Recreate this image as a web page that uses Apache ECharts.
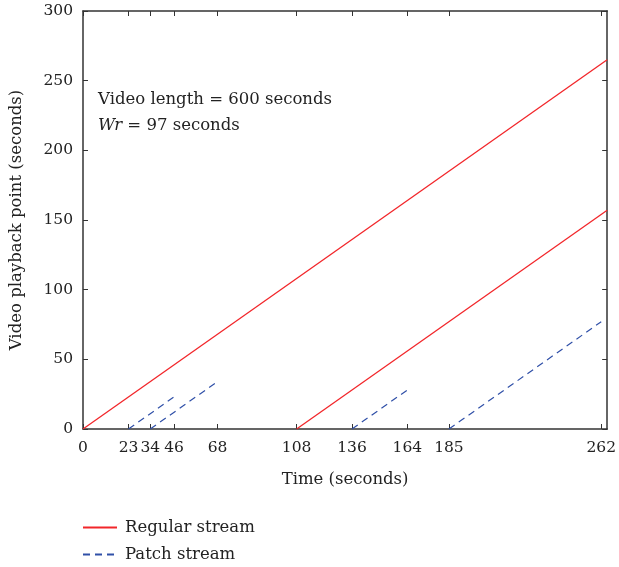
<!DOCTYPE html>
<html><head><meta charset="utf-8">
<script src="https://cdn.jsdelivr.net/npm/echarts@6/dist/echarts.min.js"></script>
<style>html,body{margin:0;padding:0;background:#fff}#c{width:619px;height:567px}</style>
</head><body><div id="c"></div>
<script>
const xTicks = [0, 23, 34, 46, 68, 108, 136, 164, 185, 262];
const yTicks = [0, 50, 100, 150, 200, 250, 300];
const regularStarts = [0, 108];
const regularEnds = [265, 265];
const patchStarts = [23, 34, 136, 185];
const patchEnds = [46, 68, 164, 262];
const seriesNames = ['Regular stream', 'Patch stream'];
const note1 = 'Video length = 600 seconds';
const note2a = 'Wr';
const note2b = ' = 97 seconds';

const font = 'DejaVu Serif, Liberation Serif, serif';
const fs = 16.5;
const tfs = 15.5;
const axisColor = '#333';
const txt = '#222';
const red = '#f2262a';
const blue = '#3050a8';

const series = [];
regularStarts.forEach((s, i) => {
  series.push({name: seriesNames[0], type: 'line', symbol: 'none', silent: true,
    lineStyle: {color: red, width: 1.3}, itemStyle: {color: red},
    data: [[s, 0], [regularEnds[i], regularEnds[i] - s]]});
});
patchStarts.forEach((s, i) => {
  series.push({name: seriesNames[1], type: 'line', symbol: 'none', silent: true,
    lineStyle: {color: blue, width: 1.2, type: [7, 5]}, itemStyle: {color: blue},
    data: [[s, 0], [patchEnds[i], patchEnds[i] - s]]});
});

const chart = echarts.init(document.getElementById('c'), null, {renderer: 'canvas'});
function tick(vals) {
  return {show: true, inside: true, length: 5, customValues: vals, lineStyle: {color: axisColor, width: 1}};
}
const lineSt = {show: true, onZero: false, lineStyle: {color: axisColor, width: 1.5}};
function legendFor(name, top) {
  return {
    show: true, data: [name], orient: 'horizontal', left: 77, top: top,
    itemWidth: 34, itemHeight: 12, itemGap: 10,
    itemStyle: {opacity: 0},
    textStyle: {fontFamily: font, fontSize: fs, color: txt, padding: [0, 0, 0, 3]},
    selectedMode: false
  };
}
chart.setOption({
  animation: false,
  grid: {left: 81, right: 9, top: 11, bottom: 138, containLabel: false},
  legend: [legendFor(seriesNames[0], 514), legendFor(seriesNames[1], 541)],
  xAxis: [{
    type: 'value', min: 0, max: 265, position: 'bottom',
    name: 'Time (seconds)', nameLocation: 'middle', nameGap: 42,
    nameTextStyle: {fontFamily: font, fontSize: fs, color: txt},
    axisLine: lineSt,
    axisTick: tick(xTicks),
    axisLabel: {customValues: xTicks, fontFamily: font, fontSize: tfs, color: txt, margin: 11},
    splitLine: {show: false}
  }, {
    type: 'value', min: 0, max: 265, position: 'top',
    axisLine: lineSt,
    axisTick: tick(xTicks),
    axisLabel: {show: false}, splitLine: {show: false}
  }],
  yAxis: [{
    type: 'value', min: 0, max: 300, interval: 50, position: 'left',
    name: 'Video playback point (seconds)', nameLocation: 'middle', nameGap: 58,
    nameTextStyle: {fontFamily: font, fontSize: fs, color: txt},
    axisLine: lineSt,
    axisTick: tick(yTicks),
    axisLabel: {customValues: yTicks, fontFamily: font, fontSize: tfs, color: txt, margin: 10},
    splitLine: {show: false}
  }, {
    type: 'value', min: 0, max: 300, interval: 50, position: 'right',
    axisLine: lineSt,
    axisTick: tick(yTicks),
    axisLabel: {show: false}, splitLine: {show: false}
  }],
  series: series,
  graphic: [{
    type: 'text', left: 98, top: 91,
    style: {text: note1, fontFamily: font, fontSize: fs, fill: txt}
  }, {
    type: 'text', left: 98, top: 117,
    style: {
      text: '{i|' + note2a + '}{n|' + note2b + '}',
      rich: {
        i: {fontFamily: font, fontSize: fs, fontStyle: 'italic', fill: txt},
        n: {fontFamily: font, fontSize: fs, fill: txt}
      }
    }
  }]
});
</script></body></html>
